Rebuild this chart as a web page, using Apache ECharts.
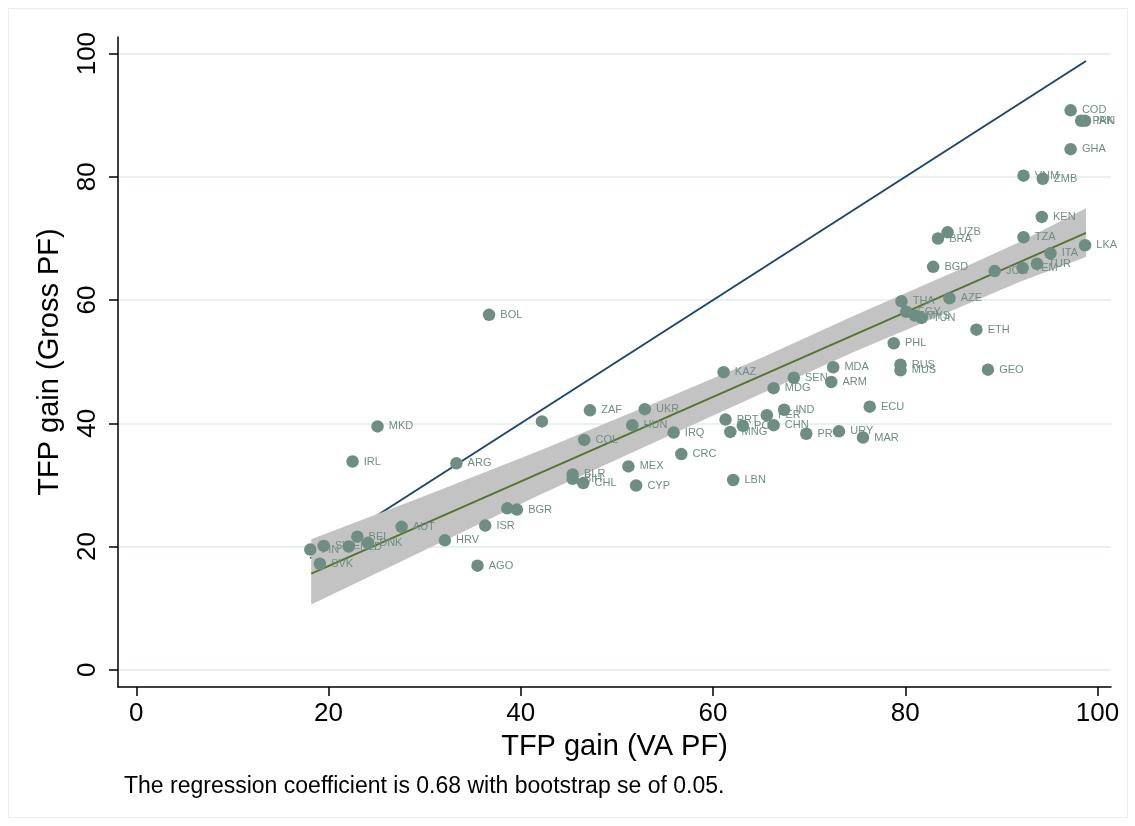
<!DOCTYPE html>
<html>
<head>
<meta charset="utf-8">
<script src="https://cdn.jsdelivr.net/npm/echarts@6/dist/echarts.min.js"></script>
<style>
  html, body { margin: 0; padding: 0; background: #ffffff; }
  #chart { width: 1135px; height: 826px; }
</style>
</head>
<body>
<div id="chart"></div>
<script>
// Country codes (empty string = point drawn without a label)
const countries = [
  'FIN','SWE','NLD','BEL','DNK','SVK','AUT','HRV','ISR','AGO','','BGR',
  'MKD','IRL','ARG','BOL','','ZAF','UKR','HUN','IRQ','COL','CRC','MEX',
  'BLR','BIH','CHL','CYP','LBN','KAZ','SEN','MDG','MDA','ARM','ECU','IND',
  'PER','PRT','POL','CHN','MNG','PRY','URY','MAR','RUS','MUS','GEO','PHL',
  'ETH','THA','EGY','MYS','TUN','AZE','BGD','JOR','YEM','TUR','ITA','LKA',
  'TZA','BRA','UZB','KEN','VNM','ZMB','GHA','COD','PAK','IRN'
];
// TFP gain, value-added production function
const vaGain = [
  18.1, 19.5, 22.1, 23.0, 24.1, 19.1, 27.6, 32.1, 36.3, 35.5, 38.6, 39.6,
  25.1, 22.5, 33.3, 36.7, 42.2, 47.2, 52.9, 51.6, 55.9, 46.6, 56.7, 51.2,
  45.4, 45.4, 46.5, 52.0, 62.1, 61.1, 68.4, 66.3, 72.5, 72.3, 76.3, 67.4,
  65.6, 61.3, 63.1, 66.3, 61.8, 69.7, 73.1, 75.6, 79.5, 79.5, 88.6, 78.8,
  87.4, 79.6, 80.1, 81.0, 81.7, 84.6, 82.9, 89.3, 92.2, 93.7, 95.1, 98.7,
  92.3, 83.4, 84.4, 94.2, 92.3, 94.3, 97.2, 97.2, 98.3, 98.7
];
// TFP gain, gross-output production function
const grossGain = [
  19.5, 20.1, 20.0, 21.6, 20.6, 17.2, 23.2, 21.0, 23.4, 16.9, 26.2, 26.0,
  39.5, 33.8, 33.5, 57.6, 40.3, 42.1, 42.3, 39.7, 38.5, 37.3, 35.0, 33.0,
  31.7, 31.0, 30.3, 29.9, 30.8, 48.3, 47.4, 45.7, 49.1, 46.7, 42.7, 42.2,
  41.3, 40.6, 39.6, 39.7, 38.6, 38.3, 38.7, 37.7, 49.5, 48.6, 48.7, 53.0,
  55.2, 59.8, 58.1, 57.5, 57.1, 60.3, 65.4, 64.7, 65.2, 65.9, 67.6, 68.9,
  70.2, 70.0, 71.0, 73.5, 80.2, 79.7, 84.5, 90.8, 89.1, 89.1
];

// 45-degree reference line over the data range
const diagX = [18.1, 98.8];
const diagY = [18.1, 98.8];

// Linear fit and its confidence band
const fitX = [18.2, 98.8];
const fitY = [15.6, 70.9];
const bandX  = [18.2, 30.0, 42.0, 55.0, 65.0, 75.0, 85.0, 92.0, 98.8];
const bandHi = [21.2, 28.2, 35.6, 44.0, 50.6, 57.7, 64.5, 69.5, 74.9];
const bandLo = [10.6, 19.4, 28.4, 37.7, 44.8, 51.8, 58.4, 63.0, 67.0];

const tickValues = [0, 20, 40, 60, 80, 100];
const xTitle = 'TFP gain (VA PF)';
const yTitle = 'TFP gain (Gross PF)';
const noteText = 'The regression coefficient is 0.68 with bootstrap se of 0.05.';

const FONT = 'Liberation Sans, Arial, Helvetica, sans-serif';
const POINT_COLOR = '#6e8e84';

const chart = echarts.init(document.getElementById('chart'), null, { renderer: 'canvas' });

const scatterData = vaGain.map((x, i) => ({ value: [x, grossGain[i]], name: countries[i] }));

const axisCommon = {
  type: 'value',
  nameLocation: 'middle',
  nameTextStyle: { fontFamily: FONT, fontSize: 29, color: '#000' },
  axisLine: { show: true, onZero: false, lineStyle: { color: '#000', width: 1.5 } },
  axisTick: { show: true, customValues: tickValues, length: 9, lineStyle: { color: '#000', width: 1.5 } },
  axisLabel: { customValues: tickValues, fontFamily: FONT, fontSize: 26, color: '#000' }
};

const option = {
  backgroundColor: '#ffffff',
  animation: false,
  grid: { left: 118, right: 24, top: 37, bottom: 139, containLabel: false },
  xAxis: Object.assign({}, axisCommon, {
    min: -1.9, max: 101.4,
    name: xTitle, nameGap: 45,
    splitLine: { show: false },
    axisLabel: Object.assign({}, axisCommon.axisLabel, { margin: 14 })
  }),
  yAxis: Object.assign({}, axisCommon, {
    min: -2.8, max: 102.7,
    name: yTitle, nameGap: 54,
    splitLine: { show: true, lineStyle: { color: '#e8f0f2', width: 2 } },
    axisLabel: Object.assign({}, axisCommon.axisLabel, { rotate: 90, margin: 17 })
  }),
  graphic: [
    {
      type: 'rect', silent: true, z: -10,
      shape: { x: 8.5, y: 8.5, width: 1119, height: 809 },
      style: { fill: 'none', stroke: '#e6edf0', lineWidth: 1 }
    },
    {
      type: 'text', left: 124, top: 775,
      style: { text: noteText, font: '23px ' + FONT, fill: '#000' }
    }
  ],
  series: [
    {
      type: 'line', z: 1, silent: true, symbol: 'none',
      data: diagX.map((x, i) => [x, diagY[i]]),
      lineStyle: { color: '#1a476f', width: 2 }
    },
    {
      type: 'custom', z: 2, silent: true,
      data: [[bandX[0], bandLo[0]]],
      renderItem: function (params, api) {
        const pts = [];
        for (let i = 0; i < bandX.length; i++) pts.push(api.coord([bandX[i], bandHi[i]]));
        for (let i = bandX.length - 1; i >= 0; i--) pts.push(api.coord([bandX[i], bandLo[i]]));
        return { type: 'polygon', shape: { points: pts }, style: { fill: '#c3c3c3' } };
      }
    },
    {
      type: 'line', z: 3, silent: true, symbol: 'none',
      data: fitX.map((x, i) => [x, fitY[i]]),
      lineStyle: { color: '#55752f', width: 2 }
    },
    {
      type: 'scatter', z: 4,
      symbol: 'circle', symbolSize: 12.5,
      itemStyle: { color: POINT_COLOR, opacity: 1 },
      data: scatterData,
      label: {
        show: true, position: 'right', distance: 5,
        formatter: p => p.name,
        fontFamily: FONT, fontSize: 11, color: POINT_COLOR
      }
    }
  ]
};

chart.setOption(option);
</script>
</body>
</html>
